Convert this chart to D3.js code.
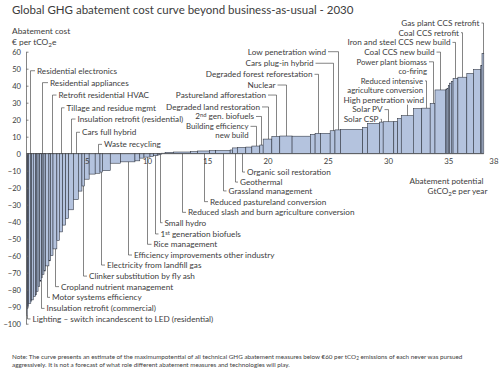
<!DOCTYPE html>
<html><head><meta charset="utf-8">
<script src="https://cdn.jsdelivr.net/npm/d3@7/dist/d3.min.js"></script>
<style>
body{margin:0;background:#fff;}
svg text{font-family:Lato,"Open Sans",sans-serif;fill:#3c3c3c;}
</style></head><body>
<svg id="chart" width="500" height="379"></svg>
<script>
// ---------- data ----------
const measures = [
 "Lighting – switch incandescent to LED (residential)","","","Residential electronics","","","","","","",
 "Insulation retrofit (commercial)","Residential appliances","","","Motor systems efficiency","","Retrofit residential HVAC","Cropland nutrient management","","Tillage and residue mgmt",
 "","","Insulation retrofit (residential)","Cars full hybrid","","Clinker substitution by fly ash","","","Waste recycling","Electricity from landfill gas",
 "","","Efficiency improvements other industry","","","Rice management","","1st generation biofuels","","Small hydro",
 "","","Reduced slash and burn agriculture conversion","","Reduced pastureland conversion","","Grassland management","","Geothermal","Organic soil restoration",
 "","Building efficiency new build","2nd gen. biofuels","Degraded land restoration","Pastureland afforestation","Nuclear","","","Degraded forest reforestation","",
 "Cars plug-in hybrid","Low penetration wind","","","","Solar CSP","Solar PV","","","High penetration wind",
 "","Reduced intensive agriculture conversion","Power plant biomass co-firing","Coal CCS new build","","","","","","Iron and steel CCS new build",
 "Coal CCS retrofit","","","","Gas plant CCS retrofit"
];
// abatement potential (GtCO2e per year), bar widths
const potentials = [
 0.06,0.06,0.06,0.18,0.06,0.14,0.20,0.06,0.14,0.14,
 0.14,0.06,0.15,0.13,0.28,0.14,0.20,0.32,0.20,0.28,
 0.25,0.25,0.40,0.40,0.30,0.20,0.40,0.50,0.40,0.20,
 0.65,0.85,1.20,0.40,0.35,0.50,0.30,0.30,0.15,0.20,
 0.30,0.70,1.40,0.60,1.00,0.50,1.20,0.20,0.40,0.70,
 0.50,0.66,0.28,0.72,0.66,1.02,1.51,0.40,0.45,0.80,
 0.40,0.46,1.84,0.40,1.00,0.30,0.88,0.32,0.30,1.00,
 0.70,0.70,0.40,0.90,0.10,0.10,0.10,0.15,0.15,0.40,
 0.74,0.56,0.60,0.10,0.15
];
// abatement cost (€ per tCO2e), bar heights
const costs = [
 -95,-91,-90,-88,-87,-86,-84,-83,-81,-78,
 -75,-73,-71,-69,-66,-63,-60,-56,-51,-46,
 -42,-38,-33,-27,-22,-19,-15,-12,-11.5,-10.8,
 -10,-5.6,-4.8,-4.2,-2.6,-2.0,-1.6,-1.2,-0.8,-0.5,
 0.3,0.8,1.0,1.2,1.6,1.8,1.9,2.2,3.4,3.7,
 3.9,4.5,5.1,8.6,10.2,10.4,10.3,11.4,12.0,12.0,
 13.5,14.0,14.3,15.5,17.9,18.6,18.8,19.0,20.8,22.4,
 26.5,26.8,29.6,37.5,38.0,38.5,40.0,41.5,42.5,44.3,
 45.0,47.3,49.6,52.0,59.0
];
const costTicks = [60,50,40,30,20,10,0,-10,-20,-30,-40,-50,-60,-70,-80,-90,-100];
const potentialTicks = [5,10,15,20,25,30,35,38];

const titleText = "Global GHG abatement cost curve beyond business-as-usual - 2030";
const yTitle = ["Abatement cost","€ per tCO_2e"];
const xTitle = ["Abatement potential","GtCO_2e per year"];
const noteLines = [
 "Note: The curve presents an estimate of the maximumpotential of all technical GHG abatement measures below €60 per tCO_2 emissions of each never was pursued",
 "aggressively. It is not a forecast of what role different abatement measures and technologies will play."
];

// callout layout: row = label height expressed in cost units
const callouts = [
 {m:"Residential electronics",row:48.8,side:"R",gap:6.5},
 {m:"Residential appliances",row:41.8,side:"R",gap:7.5},
 {m:"Retrofit residential HVAC",row:34.5,side:"R",gap:6},
 {m:"Tillage and residue mgmt",row:27,side:"R",gap:5},
 {m:"Insulation retrofit (residential)",row:20.4,side:"R",gap:6},
 {m:"Cars full hybrid",row:12.6,side:"R",gap:5.5},
 {m:"Waste recycling",row:5.5,side:"R",gap:5.5},
 {m:"Lighting – switch incandescent to LED (residential)",row:-97.2,side:"R",gap:5},
 {m:"Insulation retrofit (commercial)",row:-91,side:"R",gap:5},
 {m:"Motor systems efficiency",row:-84.5,side:"R",gap:4.5},
 {m:"Cropland nutrient management",row:-78.2,side:"R",gap:5.5},
 {m:"Clinker substitution by fly ash",row:-72,side:"R",gap:5.5},
 {m:"Electricity from landfill gas",row:-65.5,side:"R",gap:5.5},
 {m:"Efficiency improvements other industry",row:-59.6,side:"R",gap:5.5},
 {m:"Rice management",row:-53.3,side:"R",gap:6},
 {m:"1st generation biofuels",row:-47.2,side:"R",gap:5,lines:["1^st generation biofuels"]},
 {m:"Small hydro",row:-40.6,side:"R",gap:4},
 {m:"Reduced slash and burn agriculture conversion",row:-34.5,side:"R",gap:5.5},
 {m:"Reduced pastureland conversion",row:-28.2,side:"R",gap:5.5},
 {m:"Grassland management",row:-21.9,side:"R",gap:5},
 {m:"Geothermal",row:-16.7,side:"R",gap:4.5},
 {m:"Organic soil restoration",row:-10.8,side:"R",gap:4.5},
 {m:"Building efficiency new build",row:16.1,side:"L",gap:8,lines:["Building efficiency","new build"],small:true},
 {m:"2nd gen. biofuels",row:21.9,side:"L",gap:7.5,lines:["2^nd gen. biofuels"]},
 {m:"Degraded land restoration",row:27.5,side:"L",gap:8.5},
 {m:"Pastureland afforestation",row:34.5,side:"L",gap:10.5},
 {m:"Nuclear",row:40.4,side:"L",gap:11},
 {m:"Degraded forest reforestation",row:46.7,side:"L",gap:6},
 {m:"Cars plug-in hybrid",row:53.2,side:"L",gap:20},
 {m:"Low penetration wind",row:60,side:"L",gap:12.5},
 {m:"Solar CSP",row:20.24,side:"L",gap:3},
 {m:"Solar PV",row:25.94,side:"L",gap:6},
 {m:"High penetration wind",row:31.65,side:"U",gap:16.5},
 {m:"Reduced intensive agriculture conversion",row:42.82,side:"L",gap:3.5,lines:["Reduced intensive","agriculture conversion"],small:true},
 {m:"Power plant biomass co-firing",row:54.06,side:"L",gap:6.5,lines:["Power plant biomass","co-firing"],small:true},
 {m:"Coal CCS new build",row:59.76,side:"L",gap:6},
 {m:"Iron and steel CCS new build",row:65.47,side:"L",gap:5},
 {m:"Coal CCS retrofit",row:71.18,side:"L",gap:3.5},
 {m:"Gas plant CCS retrofit",row:76.88,side:"L",gap:4}
];

// ---------- chart ----------
const svg = d3.select("#chart");
const x = d3.scaleLinear().domain([0,38]).range([26.5,484.4]);
const y = d3.scaleLinear().domain([-100,60]).range([323.7,51.7]);

const starts = [0, ...d3.cumsum(potentials)].slice(0, potentials.length);
const total = d3.sum(potentials);

// helper to write text with _2 subscripts and ^xx superscripts
function rich(sel, str, size){
  const parts = str.split(/(_2|\^\w+)/).filter(s=>s!=="");
  parts.forEach(p=>{
    if(p==="_2") sel.append("tspan").attr("font-size",size*0.75).attr("baseline-shift","-25%").text("2");
    else if(p[0]==="^") sel.append("tspan").attr("font-size",size*0.7).attr("baseline-shift","35%").text(p.slice(1));
    else sel.append("tspan").text(p);
  });
}

// title
svg.append("text").attr("x",12).attr("y",14).attr("font-size",11.5).attr("fill","#3a3a3a").text(titleText);

// bars
const bars = svg.append("g");
bars.selectAll("rect").data(costs).join("rect")
  .attr("x",(d,i)=>x(starts[i]))
  .attr("width",(d,i)=>x(starts[i]+potentials[i])-x(starts[i]))
  .attr("y",d=>y(Math.max(d,0)))
  .attr("height",d=>Math.abs(y(d)-y(0)))
  .attr("fill","#b4c3de")
  .attr("stroke","#2a2f3a")
  .attr("stroke-width",0.55);

// zero line
svg.append("line").attr("x1",x(0)).attr("x2",x(total)).attr("y1",y(0)).attr("y2",y(0))
  .attr("stroke","#555").attr("stroke-width",0.8);

// y axis
const yAxis = d3.axisLeft(y).tickValues(costTicks).tickSizeInner(-2.5).tickSizeOuter(0).tickPadding(5);
const gy = svg.append("g").attr("transform",`translate(${x(0)-0.5},0)`).call(yAxis);
gy.select(".domain").attr("stroke","#666").attr("stroke-width",0.8);
gy.selectAll(".tick line").attr("stroke","#666").attr("stroke-width",0.8);
gy.selectAll(".tick text").attr("font-size",7.6).attr("font-family","Lato,sans-serif").attr("fill","#444");

// x axis (labels only)
const xAxis = d3.axisBottom(x).tickValues(potentialTicks).tickSize(0).tickPadding(4.5).tickFormat(d3.format("d"));
const gx = svg.append("g").attr("transform",`translate(0,${y(0)})`).call(xAxis);
gx.select(".domain").remove();
gx.selectAll(".tick text").attr("font-size",7.8).attr("font-family","Lato,sans-serif").attr("fill","#444")
  .attr("dx",d=>d===38?9:0);

// axis titles
yTitle.forEach((t,k)=>{
  const tx = svg.append("text").attr("x",12).attr("y",y(60)-18+k*11).attr("font-size",8.4);
  rich(tx,t,8.4);
});
xTitle.forEach((t,k)=>{
  const tx = svg.append("text").attr("x",x(38)-1+k*4).attr("y",y(0)+30.5+k*10).attr("text-anchor","end").attr("font-size",8.2);
  rich(tx,t,8.2);
});

// callouts
const fs = 8.2, fsSmall = 7.8, lh = 9.4;
const gl = svg.append("g");
callouts.forEach(c=>{
  const i = measures.indexOf(c.m);
  const ax = Math.round(x(starts[i]+potentials[i]/2))+0.5;
  const yr = y(c.row);
  const top = y(Math.max(costs[i],0)), bot = y(Math.min(costs[i],0));
  const lines = c.lines || [c.m];
  const size = c.small ? fsSmall : fs;
  let path, tx, anchor;
  if(c.side==="R"){
    const above = yr < top;
    path = above ? `M${ax},${top}V${yr}H${ax+c.gap-2}` : `M${ax},${bot}V${yr}H${ax+c.gap-2}`;
    tx = ax + c.gap; anchor = "start";
  } else if(c.side==="L"){
    path = `M${ax-c.gap+2},${yr}H${ax}V${top}`;
    tx = ax - c.gap; anchor = "end";
  } else {
    path = `M${ax},${yr+4.8}V${top}`;
    tx = ax + c.gap; anchor = "end";
  }
  gl.append("path").attr("d",path).attr("fill","none").attr("stroke","#333").attr("stroke-width",0.6);
  lines.forEach((ln,k)=>{
    const t = gl.append("text").attr("x",tx).attr("y",yr+k*lh).attr("dy","0.35em")
      .attr("text-anchor",anchor).attr("font-size",size);
    rich(t,ln,size);
  });
});

// note
noteLines.forEach((ln,k)=>{
  const t = svg.append("text").attr("x",12).attr("y",359+k*7.7).attr("font-size",6.3).attr("fill","#444");
  rich(t,ln,6.3);
});
</script>
</body></html>
